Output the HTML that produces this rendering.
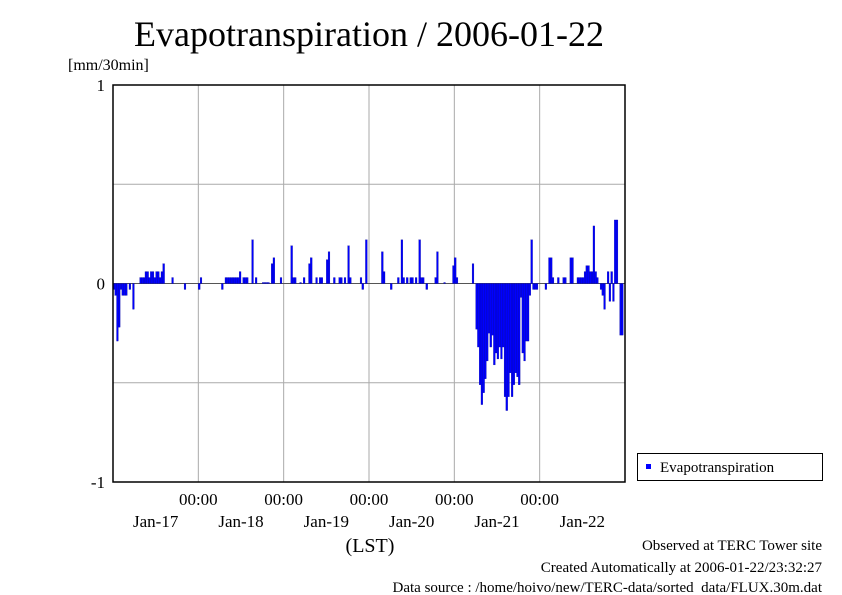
<!DOCTYPE html>
<html><head><meta charset="utf-8"><style>
body{margin:0;background:#fff;}
svg{display:block;font-family:"Liberation Serif",serif;}
</style></head><body>
<svg width="842" height="595" viewBox="0 0 842 595">
<rect width="842" height="595" fill="#fff"/>
<text x="369" y="46" font-size="36" text-anchor="middle">Evapotranspiration / 2006-01-22</text>
<text x="68" y="70" font-size="16">[mm/30min]</text>
<g id="grid"></g>
<g id="bars"></g>
<rect x="113" y="85" width="512" height="397" fill="none" stroke="#000" stroke-width="1.5"/>
<g id="axes" font-size="17"></g>
<text x="370" y="552" font-size="20" text-anchor="middle">(LST)</text>
<g>
<rect x="637.5" y="453.5" width="185" height="27" fill="#fff" stroke="#000"/>
<rect x="646" y="464" width="5" height="5" fill="#0000ff"/>
<text x="660" y="472" font-size="15">Evapotranspiration</text>
</g>
<g font-size="15" text-anchor="end">
<text x="822" y="550">Observed at TERC Tower site</text>
<text x="822" y="572">Created Automatically at 2006-01-22/23:32:27</text>
<text x="822" y="595" dy="-3" xml:space="preserve">Data source : /home/hoivo/new/TERC-data/sorted  data/FLUX.30m.dat</text>
</g>
</svg>
<script>
const dayLabels=["Jan-17","Jan-18","Jan-19","Jan-20","Jan-21","Jan-22"];
const yTicks=[1,0,-1];
const yGrid=[0.5,-0.5];
const slots=[0,1,2,3,4,5,6,7,9,11,15,16,17,18,19,20,21,22,23,24,25,26,27,28,33,40,48,49,61,63,64,65,66,67,68,69,70,71,73,74,75,78,80,84,85,86,87,89,90,94,100,101,102,105,107,110,111,114,116,117,120,121,124,127,128,130,132,133,139,140,142,151,152,156,160,162,163,165,167,168,170,172,173,174,176,181,182,186,191,192,193,202,204,205,206,207,208,209,210,211,212,213,214,215,216,217,218,219,220,221,222,223,224,225,226,227,228,229,230,231,232,233,234,235,236,237,238,243,245,246,247,250,253,254,257,258,261,262,263,264,265,266,267,268,269,270,271,272,274,275,276,278,279,280,281,282,283,285,286];
const values=[-0.03,-0.06,-0.29,-0.22,-0.03,-0.06,-0.06,-0.06,-0.03,-0.13,0.03,0.03,0.03,0.06,0.06,0.03,0.06,0.06,0.03,0.06,0.06,0.03,0.06,0.1,0.03,-0.03,-0.03,0.03,-0.03,0.03,0.03,0.03,0.03,0.03,0.03,0.03,0.03,0.06,0.03,0.03,0.03,0.22,0.03,0.005,0.005,0.005,0.005,0.1,0.13,0.03,0.19,0.03,0.03,0.005,0.03,0.1,0.13,0.03,0.03,0.03,0.12,0.16,0.03,0.03,0.03,0.03,0.19,0.03,0.03,-0.03,0.22,0.16,0.06,-0.03,0.03,0.22,0.03,0.03,0.03,0.03,0.03,0.22,0.03,0.03,-0.03,0.03,0.16,0.005,0.09,0.13,0.03,0.1,-0.23,-0.32,-0.51,-0.61,-0.55,-0.48,-0.39,-0.25,-0.32,-0.26,-0.41,-0.35,-0.38,-0.32,-0.38,-0.32,-0.57,-0.64,-0.57,-0.45,-0.57,-0.51,-0.45,-0.47,-0.51,-0.07,-0.35,-0.39,-0.29,-0.29,-0.06,0.22,-0.03,-0.03,-0.03,-0.03,0.13,0.13,0.03,0.03,0.03,0.03,0.13,0.13,0.03,0.03,0.03,0.03,0.06,0.09,0.09,0.06,0.06,0.29,0.06,0.03,-0.03,-0.06,-0.13,0.06,-0.09,0.06,-0.09,0.32,0.32,-0.26,-0.26];
const NS="http://www.w3.org/2000/svg";
const X0=113,W=512,NSLOT=288,Y0=85,H=397,YMIN=-1,YMAX=1;
const xs=i=>X0+i*W/NSLOT;
const ys=v=>Y0+(YMAX-v)/(YMAX-YMIN)*H;
function mk(tag,attrs,parent){const e=document.createElementNS(NS,tag);for(const k in attrs)e.setAttribute(k,attrs[k]);parent.appendChild(e);return e;}
const grid=document.getElementById('grid'),bars=document.getElementById('bars'),axes=document.getElementById('axes');
for(let d=1;d<dayLabels.length;d++){const x=xs(d*48);
const l=mk('line',{x1:x,x2:x,y1:Y0,y2:Y0+H,stroke:'#aaa','stroke-width':1},grid);


const t=mk('text',{x:x,y:505,'text-anchor':'middle'},axes);t.textContent='00:00';

}
dayLabels.forEach((lab,d)=>{const t=mk('text',{x:xs(d*48+24),y:527,'text-anchor':'middle'},axes);t.textContent=lab;

});
yGrid.forEach(v=>{const l=mk('line',{x1:X0,x2:X0+W,y1:ys(v),y2:ys(v),stroke:'#aaa','stroke-width':1},grid);

});
yTicks.forEach(v=>{const t=mk('text',{x:105,y:ys(v)+6,'text-anchor':'end'},axes);t.textContent=String(v);


if(v===0){const l=mk('line',{x1:X0,x2:X0+W,y1:ys(0),y2:ys(0),stroke:'#555','stroke-width':1},grid);

}});
slots.forEach((s,k)=>{const v=values[k];const y1=ys(Math.max(v,0)),y2=ys(Math.min(v,0));
const r=mk('rect',{x:xs(s),y:y1,width:W/NSLOT,height:Math.max(y2-y1,0.8),fill:'#0000ff',stroke:'#000099','stroke-width':0.3},bars);

});
</script>
</body></html>
